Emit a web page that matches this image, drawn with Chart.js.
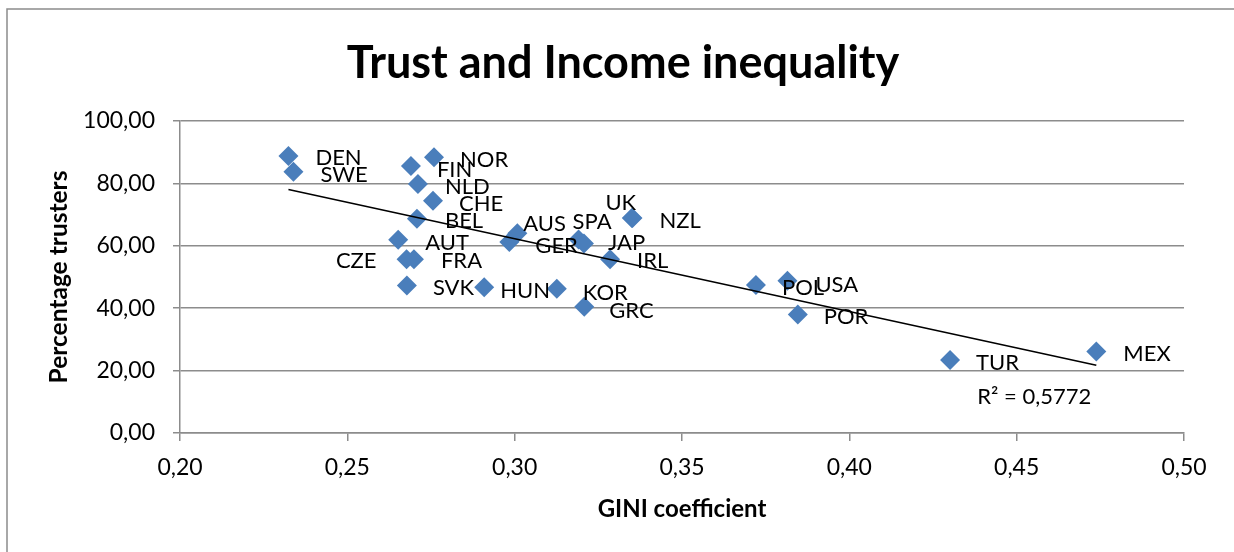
<!DOCTYPE html>
<html>
<head>
<meta charset="utf-8">
<script src="https://cdn.jsdelivr.net/npm/chart.js@4/dist/chart.umd.min.js"></script>
<style>
  html, body { margin: 0; padding: 0; background: #fff; }
  canvas { display: block; }
</style>
</head>
<body>
<canvas id="chart" width="1234" height="552"></canvas>
<script>
const countries = ['DEN', 'SWE', 'FIN', 'NOR', 'NLD', 'CHE', 'BEL', 'AUT', 'CZE', 'FRA', 'SVK', 'HUN', 'AUS',
    'GER', 'SPA', 'JAP', 'UK', 'NZL', 'IRL', 'KOR', 'GRC', 'POL', 'USA', 'POR', 'TUR', 'MEX'];
const giniValues = [0.2324, 0.2339, 0.2690, 0.2759, 0.2711, 0.2756, 0.2708, 0.2652, 0.2677, 0.2699, 0.2678, 0.2909, 0.3008,
    0.2984, 0.3191, 0.3207, 0.3350, 0.3352, 0.3285, 0.3126, 0.3208, 0.3721, 0.3815, 0.3846, 0.4301, 0.4738];
const trustValues = [88.8, 83.7, 85.6, 88.4, 79.8, 74.4, 68.7, 61.9, 55.7, 55.7, 47.3, 46.7, 64.0,
    61.2, 62.0, 60.7, 68.9, 68.9, 55.7, 46.2, 40.5, 47.4, 48.8, 38.0, 23.4, 26.1];
const xTickValues = [0.20, 0.25, 0.30, 0.35, 0.40, 0.45, 0.50];
const yTickValues = [0, 20, 40, 60, 80, 100];
const rSquaredText = 'R² = 0,5772';

// where each country label sits relative to its marker: [dx, dy, align]
const labelOffsets = [
    [27, 1, 'left'], [27, 2, 'left'], [26, 3, 'left'], [26, 2, 'left'], [27, 2, 'left'], [26, 2, 'left'],
    [28, 1, 'left'], [27, 2, 'left'], [-30, 1, 'right'], [27, 1, 'left'], [26, 2, 'left'], [16, 3, 'left'],
    [6, -10, 'left'], [26, 3, 'left'], [-6, -18, 'left'], [24, -2, 'left'], [-11, -16, 'center'], [27, 2, 'left'],
    [27, 1, 'left'], [26, 3, 'left'], [25, 3, 'left'], [26, 2, 'left'], [28, 3, 'left'], [26, 2, 'left'],
    [26, 2, 'left'], [27, 2, 'left']
];

const gridGrey = '#8c8c8c';
const markerBlue = '#4a7ebb';

function linearFit(xs, ys) {
    const n = xs.length;
    const mx = xs.reduce((a, b) => a + b, 0) / n;
    const my = ys.reduce((a, b) => a + b, 0) / n;
    let sxy = 0, sxx = 0;
    for (let i = 0; i < n; i++) {
        sxy += (xs[i] - mx) * (ys[i] - my);
        sxx += (xs[i] - mx) * (xs[i] - mx);
    }
    const slope = sxy / sxx;
    return { slope: slope, intercept: my - slope * mx };
}

const fit = linearFit(giniValues, trustValues);
const xMin = Math.min(...giniValues);
const xMax = Math.max(...giniValues);
const trendPoints = [xMin, xMax].map(x => ({ x: x, y: fit.intercept + fit.slope * x }));
const scatterPoints = giniValues.map((g, i) => ({ x: g, y: trustValues[i] }));

const fmt = v => Number(v).toFixed(2).replace('.', ',');

const frame = {
    id: 'frame',
    beforeDraw(chart) {
        const ctx = chart.ctx;
        ctx.save();
        ctx.fillStyle = '#fff';
        ctx.fillRect(0, 0, chart.width, chart.height);
        ctx.strokeStyle = gridGrey;
        ctx.lineWidth = 1.5;
        ctx.strokeRect(7, 9, chart.width + 20, chart.height + 20);
        // title
        ctx.fillStyle = '#000';
        ctx.font = 'bold 45px Lato';
        ctx.textAlign = 'center';
        ctx.textBaseline = 'alphabetic';
        ctx.fillText('Trust and Income inequality', 623, 78);
        ctx.restore();
    }
};

const pointLabels = {
    id: 'pointLabels',
    afterDatasetsDraw(chart) {
        const ctx = chart.ctx;
        const meta = chart.getDatasetMeta(1);
        const size = 22;
        ctx.save();
        ctx.font = size + 'px Lato';
        ctx.fillStyle = '#000';
        ctx.textBaseline = 'alphabetic';
        meta.data.forEach((pt, i) => {
            const off = labelOffsets[i];
            ctx.textAlign = off[2];
            ctx.fillText(countries[i], pt.x + off[0], pt.y + off[1] + 0.36 * size);
        });
        // R squared next to the end of the trendline
        const end = chart.getDatasetMeta(0).data[1];
        ctx.textAlign = 'left';
        ctx.fillText(rSquaredText, end.x - 119, end.y + 31 + 0.36 * size);
        ctx.restore();
    }
};

new Chart(document.getElementById('chart'), {
    type: 'scatter',
    data: {
        datasets: [{
            type: 'line',
            data: trendPoints,
            borderColor: '#000',
            borderWidth: 1.6,
            pointRadius: 0,
            fill: false,
            order: 0
        }, {
            data: scatterPoints,
            pointStyle: 'rectRot',
            pointRadius: 10,
            backgroundColor: markerBlue,
            borderColor: markerBlue,
            borderWidth: 0,
            order: 1
        }]
    },
    options: {
        responsive: false,
        animation: false,
        layout: { padding: { top: 121, left: 8, right: 50, bottom: 0 } },
        plugins: {
            legend: { display: false },
            tooltip: { enabled: false },
            title: { display: false }
        },
        scales: {
            x: {
                type: 'linear',
                min: 0.2,
                max: 0.5,
                afterBuildTicks: (scale) => { scale.ticks = xTickValues.map(v => ({ value: v })); },
                afterFit: (scale) => { scale.height = 119; },
                ticks: {
                    callback: fmt,
                    color: '#000',
                    padding: 13,
                    maxRotation: 0,
                    font: { family: 'Lato', size: 23 }
                },
                grid: { drawOnChartArea: false, drawTicks: true, tickLength: 8, color: gridGrey, lineWidth: 1.5 },
                border: { display: true, color: gridGrey, width: 1.5 },
                title: {
                    display: true,
                    text: 'GINI coefficient',
                    color: '#000',
                    font: { family: 'Lato', size: 24, weight: 'bold' },
                    padding: { top: 0, bottom: 28 }
                }
            },
            y: {
                type: 'linear',
                min: 0,
                max: 100,
                afterBuildTicks: (scale) => { scale.ticks = yTickValues.map(v => ({ value: v })); },
                afterFit: (scale) => { scale.width = 172; },
                ticks: {
                    callback: fmt,
                    color: '#000',
                    padding: 18,
                    font: { family: 'Lato', size: 23 }
                },
                grid: { drawTicks: true, tickLength: 7, color: gridGrey, lineWidth: 1.5 },
                border: { display: true, color: gridGrey, width: 1.5 },
                title: {
                    display: true,
                    text: 'Percentage trusters',
                    color: '#000',
                    font: { family: 'Lato', size: 24.5, weight: 'bold' },
                    padding: { top: 36, bottom: 0 }
                }
            }
        }
    },
    plugins: [frame, pointLabels]
});
</script>
</body>
</html>
